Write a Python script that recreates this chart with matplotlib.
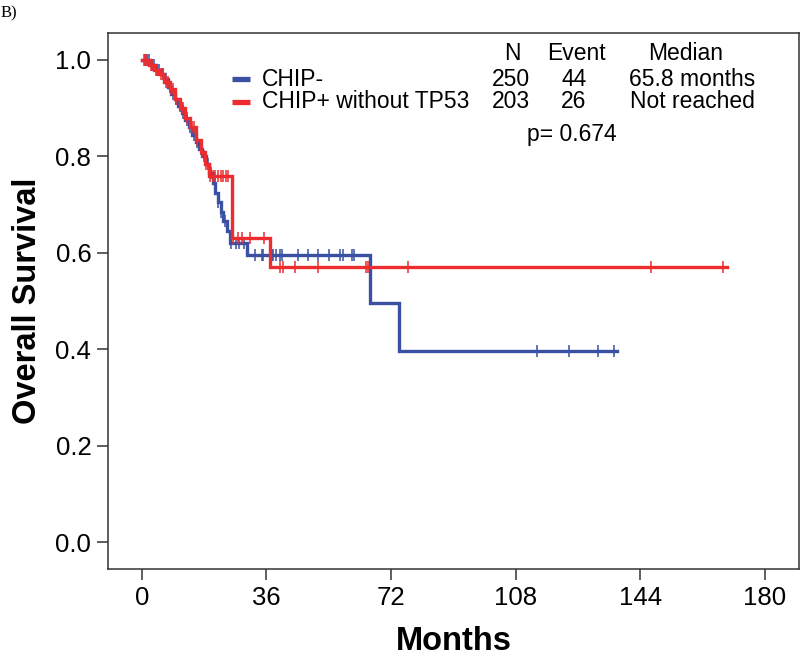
import numpy as np
import matplotlib
matplotlib.use('Agg')
import matplotlib.pyplot as plt
from matplotlib.lines import Line2D

plt.rcParams['font.family'] = ['Liberation Sans', 'DejaVu Sans']

# Kaplan-Meier steps (months, survival after the step)
blue_t = [0, 2.5, 4, 5.5, 6.5, 7.5, 8.5, 9.5, 10.5, 11.5, 12.5, 13.5, 14.5, 15.5, 16.5,
          17.5, 18.5, 19.5, 20.5, 21.2, 22, 22.8, 23.5, 24.5, 25.5, 30.5, 65.8, 74.4]
blue_s = [1.0, 0.99, 0.98, 0.97, 0.96, 0.945, 0.93, 0.92, 0.905, 0.89, 0.875, 0.86, 0.845, 0.83, 0.815,
          0.80, 0.785, 0.765, 0.745, 0.725, 0.705, 0.685, 0.665, 0.645, 0.62, 0.595, 0.496, 0.396]
blue_end = 137.4
blue_cens = [0.8, 1.5, 2.0, 3.0, 3.5, 4.5, 5.0, 6.0, 7.0, 8.0, 9.0, 10.0, 11.0, 12.0, 13.0, 14.0,
             15.0, 16.0, 17.0, 18.0, 19.0, 20.0, 21.0, 22.0, 23.0, 24.0, 25.8, 27.3, 28.2, 29.5,
             32.7, 34.6, 35.1, 37.5, 38.0, 38.8, 39.9, 40.4, 45.2, 48.1, 51.0, 54.2, 57.3, 58.0,
             60.7, 61.2, 114.3, 123.6, 131.7, 136.6]

red_t = [0, 2, 3.5, 5, 6.5, 8, 9.5, 11, 12.5, 14, 15.5, 17, 18.2, 19.3, 25.9, 37.0]
red_s = [1.0, 0.99, 0.98, 0.97, 0.955, 0.94, 0.92, 0.9, 0.88, 0.86, 0.835, 0.81, 0.785, 0.76, 0.63, 0.57]
red_end = 169.0
red_cens = [0.5, 1.0, 1.5, 2.5, 3.0, 4.0, 4.5, 5.5, 6.0, 7.0, 7.5, 8.5, 9.0, 10.0, 11.5, 12.0,
            13.0, 14.5, 15.0, 16.0, 17.5, 18.5, 19.8, 20.5, 21.2, 22.0, 22.8, 23.5, 24.2, 25.0,
            26.4, 27.9, 28.8, 31.2, 35.3, 39.9, 40.7, 44.3, 51.0, 64.8, 65.3, 77.0, 147.3, 168.1]

groups = ['CHIP-', 'CHIP+ without TP53']
n_pat = ['250', '203']
n_event = ['44', '26']
median = ['65.8 months', 'Not reached']
p_text = 'p= 0.674'

blue = '#3A50A2'
red = '#EC2C2E'

fig = plt.figure(figsize=(8, 6.56), dpi=100)
ax = fig.add_axes([0.135, 0.1326, 0.864, 0.8171])


def km(t, s, end, cens, col):
    tt = list(t) + [end]
    ss = list(s) + [s[-1]]
    ax.step(tt, ss, where='post', color=col, lw=2.4, solid_joinstyle='miter')
    idx = np.searchsorted(t, cens, side='right') - 1
    cy = np.array(s)[idx]
    ax.plot(cens, cy, ls='none', marker='|', ms=8, mew=1.1, color=col)


km(blue_t, blue_s, blue_end, blue_cens, blue)
km(red_t, red_s, red_end, red_cens, red)

ax.set_xlim(-9.8, 190)
ax.set_ylim(-0.056, 1.056)
ax.set_xticks([0, 36, 72, 108, 144, 180])
ax.set_yticks([0.0, 0.2, 0.4, 0.6, 0.8, 1.0])
ax.set_yticklabels(['0.0', '0.2', '0.4', '0.6', '0.8', '1.0'])
ax.tick_params(labelsize=18.5, length=8, width=1.1, color='#333333', pad=4)
for sp in ax.spines.values():
    sp.set_linewidth(1.1)
    sp.set_color('#333333')
ax.set_xlabel('Months', fontsize=23.5, fontweight='bold', labelpad=12)
ax.set_ylabel('Overall Survival', fontsize=23.5, fontweight='bold', labelpad=9)


def fx(px):
    return px / 800


def fy(py):
    return 1 - py / 656


# legend table in figure pixel positions
fs = 16.5
fig.text(fx(512), fy(53), 'N', fontsize=fs, ha='center', va='center')
fig.text(fx(576), fy(53), 'Event', fontsize=fs, ha='center', va='center')
fig.text(fx(686), fy(53), 'Median', fontsize=fs, ha='center', va='center')
for i, (g, col) in enumerate(zip(groups, [blue, red])):
    y = [79, 102][i]
    fig.add_artist(Line2D([fx(232), fx(250)], [fy(y), fy(y)], color=col, lw=3.8,
                          transform=fig.transFigure, solid_capstyle='butt'))
    fig.text(fx(262), fy(y), g, fontsize=fs, ha='left', va='center')
    fig.text(fx(511), fy(y), n_pat[i], fontsize=fs, ha='center', va='center')
    fig.text(fx(574), fy(y), n_event[i], fontsize=fs, ha='center', va='center')
    fig.text(fx(692), fy(y), median[i], fontsize=fs, ha='center', va='center')
fig.text(fx(572), fy(135), p_text, fontsize=fs, ha='center', va='center')

fig.text(fx(1), fy(13), 'B)', fontsize=12, ha='left', va='center',
         family=['Liberation Serif', 'DejaVu Serif'])

fig.savefig('out.png', dpi=100)
